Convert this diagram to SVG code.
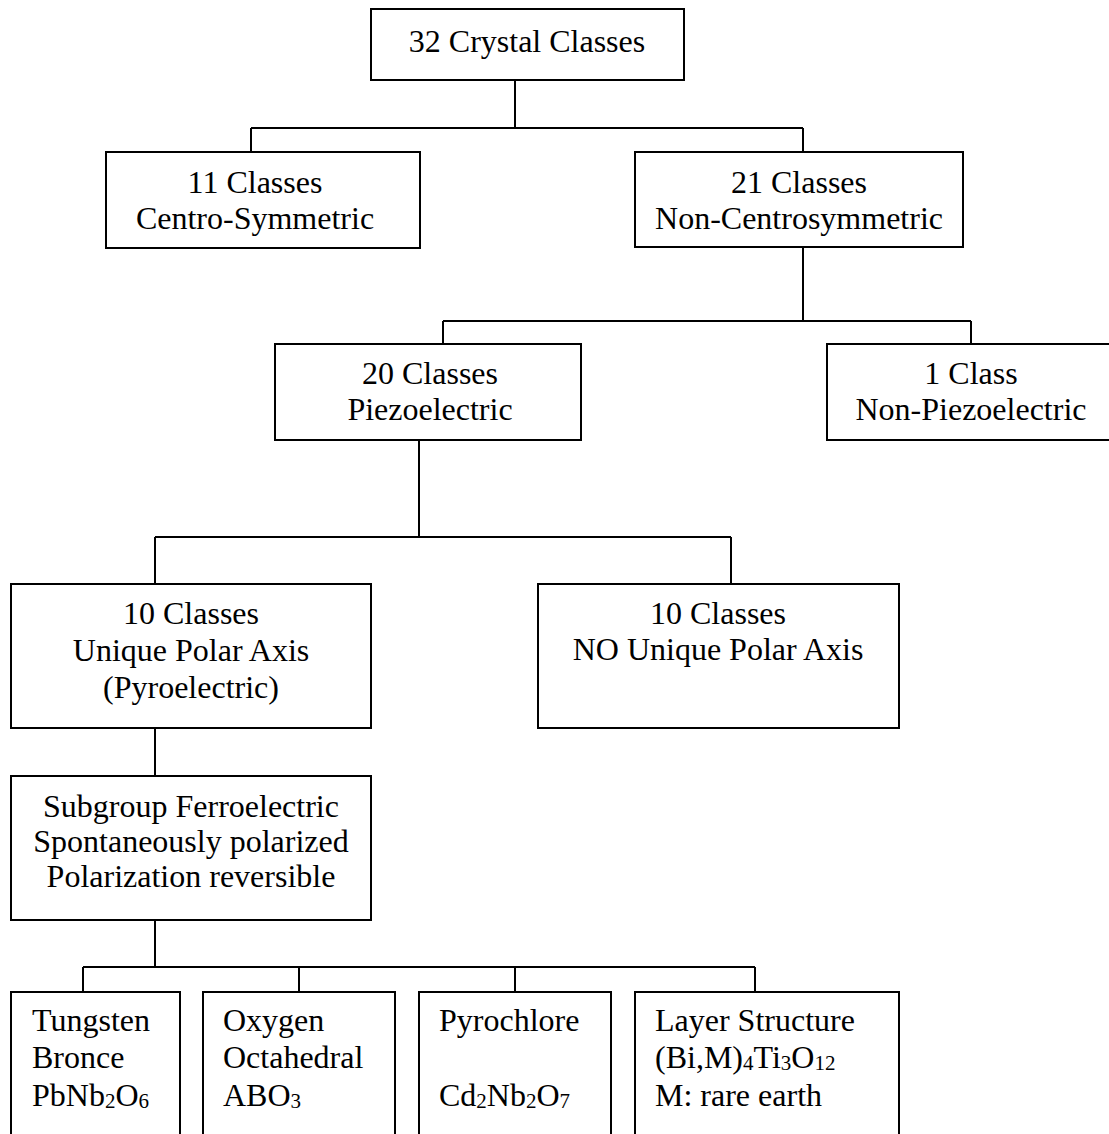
<svg xmlns="http://www.w3.org/2000/svg" width="1109" height="1134" viewBox="0 0 1109 1134">
<style>
.box{fill:#fff;stroke:#000;stroke-width:2}
.ln{fill:none;stroke:#000;stroke-width:2}
text{font-family:"Liberation Serif","Times New Roman",serif;font-size:32px;fill:#000}
.c{text-anchor:middle}
.sub{font-size:21px}
</style>
<rect width="1109" height="1134" fill="#fff"/>
<g id="connectors">
<path class="ln" d="M515 80V128M251 128H803M251 128V152M803 128V152"/>
<path class="ln" d="M803 247V321M443 321H971M443 321V344M971 321V344"/>
<path class="ln" d="M419 440V537M155 537H731M155 537V584M731 537V584"/>
<path class="ln" d="M155 728V776"/>
<path class="ln" d="M155 920V967M83 967H755M83 967V992M299 967V992M515 967V992M755 967V992"/>
</g>
<g id="n-32">
<rect class="box" x="371" y="9" width="313" height="71"/>
<text class="c" x="527" y="52">32 Crystal Classes</text>
</g>
<g id="n-11">
<rect class="box" x="106" y="152" width="314" height="96"/>
<text class="c" x="255" y="193">11 Classes</text>
<text class="c" x="255" y="229">Centro-Symmetric</text>
</g>
<g id="n-21">
<rect class="box" x="635" y="152" width="328" height="95"/>
<text class="c" x="799" y="193">21 Classes</text>
<text class="c" x="799" y="229">Non-Centrosymmetric</text>
</g>
<g id="n-20">
<rect class="box" x="275" y="344" width="306" height="96"/>
<text class="c" x="430" y="384">20 Classes</text>
<text class="c" x="430" y="420">Piezoelectric</text>
</g>
<g id="n-1">
<rect class="box" x="827" y="344" width="290" height="96"/>
<text class="c" x="971" y="384">1 Class</text>
<text class="c" x="971" y="420">Non-Piezoelectric</text>
</g>
<g id="n-10p">
<rect class="box" x="11" y="584" width="360" height="144"/>
<text class="c" x="191" y="624">10 Classes</text>
<text class="c" x="191" y="661">Unique Polar Axis</text>
<text class="c" x="191" y="698">(Pyroelectric)</text>
</g>
<g id="n-10n">
<rect class="box" x="538" y="584" width="361" height="144"/>
<text class="c" x="718" y="624">10 Classes</text>
<text class="c" x="718" y="660">NO Unique Polar Axis</text>
</g>
<g id="n-ferro">
<rect class="box" x="11" y="776" width="360" height="144"/>
<text class="c" x="191" y="817">Subgroup Ferroelectric</text>
<text class="c" x="191" y="852">Spontaneously polarized</text>
<text class="c" x="191" y="887">Polarization reversible</text>
</g>
<g id="n-tungsten">
<rect class="box" x="11" y="992" width="169" height="160"/>
<text x="32" y="1031">Tungsten</text>
<text x="32" y="1068">Bronce</text>
<text x="32" y="1106">PbNb<tspan class="sub" dy="2">2</tspan><tspan dy="-2">O</tspan><tspan class="sub" dy="2">6</tspan></text>
</g>
<g id="n-oxygen">
<rect class="box" x="203" y="992" width="192" height="160"/>
<text x="223" y="1031">Oxygen</text>
<text x="223" y="1068">Octahedral</text>
<text x="223" y="1106">ABO<tspan class="sub" dy="2">3</tspan></text>
</g>
<g id="n-pyro">
<rect class="box" x="419" y="992" width="192" height="160"/>
<text x="439" y="1031">Pyrochlore</text>
<text x="439" y="1106">Cd<tspan class="sub" dy="2">2</tspan><tspan dy="-2">Nb</tspan><tspan class="sub" dy="2">2</tspan><tspan dy="-2">O</tspan><tspan class="sub" dy="2">7</tspan></text>
</g>
<g id="n-layer">
<rect class="box" x="635" y="992" width="264" height="160"/>
<text x="655" y="1031">Layer Structure</text>
<text x="655" y="1068">(Bi,M)<tspan class="sub" dy="2">4</tspan><tspan dy="-2">Ti</tspan><tspan class="sub" dy="2">3</tspan><tspan dy="-2">O</tspan><tspan class="sub" dy="2">12</tspan></text>
<text x="655" y="1106">M: rare earth</text>
</g>
</svg>
